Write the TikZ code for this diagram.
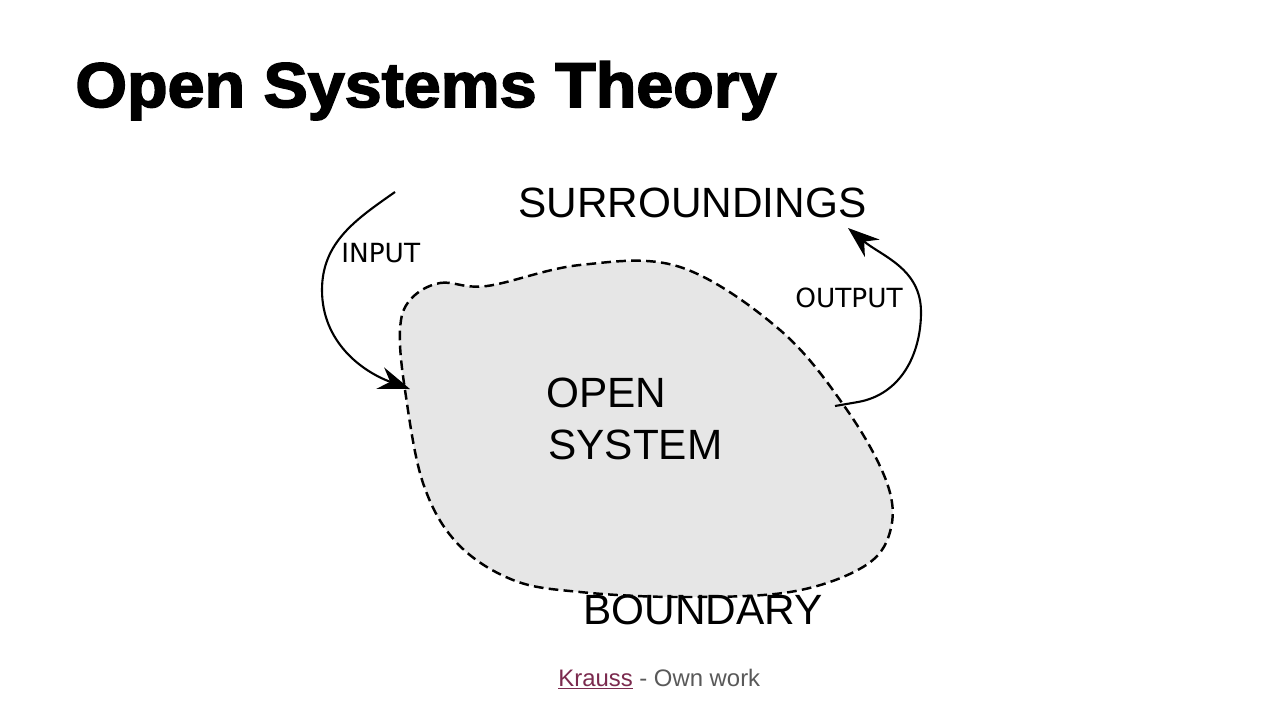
\documentclass[tikz,border=0pt]{standalone}
\usepackage{fontspec}
\setmainfont{Liberation Sans}
\newfontfamily\labelfont{DejaVu Sans}
\newfontfamily\titlefont[FakeBold=2.5]{Liberation Sans Bold}
\usetikzlibrary{arrows.meta, calc, positioning}

\definecolor{blobgray}{HTML}{E6E6E6}
\definecolor{creditred}{HTML}{7B2A4E}
\definecolor{creditgray}{HTML}{595959}

\begin{document}
\begin{tikzpicture}[>={Stealth[length=18pt,width=13pt,inset=6pt]}, x=0.02cm, y=-0.02cm,
    bigtext/.style={anchor=base west, inner sep=0pt, font=\fontsize{24.1}{28}\selectfont},
    smalltext/.style={anchor=base west, inner sep=0pt, font=\labelfont\fontsize{15}{18}\selectfont},
    flow/.style={->, line width=1.2pt}]
% page frame
\useasboundingbox[fill=white] (0,0) rectangle (1280,720);

% title
\node[anchor=base west, inner sep=0pt, xscale=1.05, font=\titlefont\fontsize{36}{40}\selectfont]
    (title) at (75,107) {Open Systems Theory};

% the open system itself
\draw[fill=blobgray, line width=1.4pt, dash pattern=on 5.5pt off 3pt]
    plot[smooth cycle, tension=0.6] coordinates {
    (410,300) (440,283) (487,286) (580,265) (680,267) (780,330) (847,410) (887,483)
    (890,532) (863,567) (790,592) (680,597) (580,592) (513,580) (457,543)
    (423,483) (405,390) (400,330)};

% labels
\node[bigtext] (surr)     at (518,217) {SURROUNDINGS};
\node[bigtext] (open)     at (546,407) {OPEN};
\node[bigtext] (system)   at (548,459) {SYSTEM};
\node[bigtext] (boundary) at (583,624) {BOUNDARY};
\node[smalltext] (input)  at (341,262) {INPUT};
\node[smalltext] (output) at (795,307) {OUTPUT};

% ends of the two flows
\coordinate (inStart)  at (395,192);
\coordinate (inEnd)    at (410,389);
\coordinate (outStart) at (835,406);
\coordinate (outEnd)   at (848,228);

\draw[flow] (inStart) to[out=215, in=90] (322,290) to[out=270, in=160] (inEnd);
\draw[flow] (outStart) -- (858,402) to[out=10, in=270] (921,312) to[out=90, in=-40] (outEnd);

% credit line
\node[anchor=base west, inner sep=0pt, font=\fontsize{13.6}{16}\selectfont]
    (credit) at (558,686) {\textcolor{creditred}{\underline{Krauss}} \textcolor{creditgray}{- Own work}};
\end{tikzpicture}
\end{document}
